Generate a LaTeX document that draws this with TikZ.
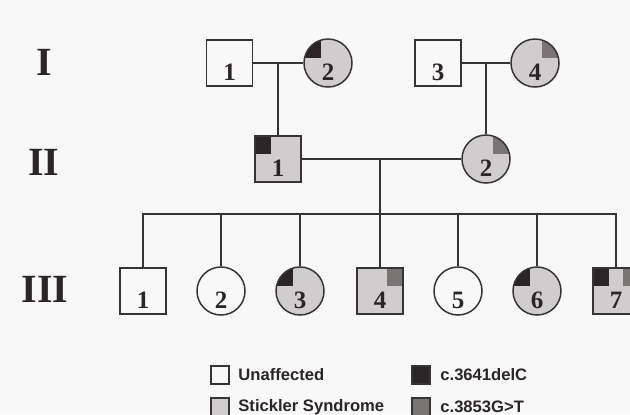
\documentclass[tikz,border=0pt]{standalone}
\usepackage{fontspec}
\setmainfont{Liberation Serif}
\setsansfont{Liberation Sans}

\definecolor{bgcol}{HTML}{F8F8F8}
\definecolor{affcol}{HTML}{CFCDCE}
\definecolor{colA}{HTML}{2B2527}
\definecolor{colB}{HTML}{7A7475}
\definecolor{linecol}{HTML}{363434}

\tikzstyle{line} = [draw=linecol, line width=0.75pt]
\tikzstyle{male} = [
        rectangle,
        minimum size=23pt,
        inner sep=0pt,
        text height=17pt,
        text depth=0pt,
        draw=linecol,
        line width=0.75pt,
        fill=bgcol,
        font=\fontsize{12.5}{14}\selectfont\bfseries,
        text=colA
    ]
\tikzstyle{female} = [
        circle,
        minimum size=24pt,
        inner sep=0pt,
        text height=17pt,
        text depth=0pt,
        draw=linecol,
        line width=0.75pt,
        fill=bgcol,
        font=\fontsize{12.5}{14}\selectfont\bfseries,
        text=colA
    ]
\tikzstyle{affected} = [fill=affcol]
\tikzstyle{carrierA} = [path picture={
        \fill[colA] (path picture bounding box.north west) rectangle ([xshift=-3.5pt,yshift=2.5pt]path picture bounding box.center);}]
\tikzstyle{carrierB} = [path picture={
        \fill[colB] (path picture bounding box.north east) rectangle ([xshift=3.5pt,yshift=2.5pt]path picture bounding box.center);}]
\tikzstyle{carrierAB} = [path picture={
        \fill[colA] (path picture bounding box.north west) rectangle ([xshift=-3.5pt,yshift=2.5pt]path picture bounding box.center);
        \fill[colB] (path picture bounding box.north east) rectangle ([xshift=3.5pt,yshift=2.5pt]path picture bounding box.center);}]
\tikzstyle{gen} = [font=\fontsize{20}{24}\selectfont\bfseries, text=colA]
\tikzstyle{legbox} = [
        rectangle,
        minimum size=9pt,
        inner sep=0pt,
        draw=linecol,
        line width=0.6pt
    ]
\tikzstyle{legtext} = [anchor=west, inner sep=0pt, font=\sffamily\bfseries\fontsize{8.3}{10}\selectfont, text=colA]

\begin{document}
\begin{tikzpicture}[x=0.5pt, y=-0.5pt]

        \path [use as bounding box, fill=bgcol] (0,0) rectangle (630,414);
        \clip (0,0) rectangle (630,414);

        % generations
        \node [gen] (genI) at (44,62) {I};
        \node [gen] (genII) at (44,162) {II};
        \node [gen] (genIII) at (45,289) {III};

        \node [male] (I1) at (229.5,63) {1};
        \node [female, affected, carrierA] (I2) at (328,63) {2};
        \node [male] (I3) at (438,63) {3};
        \node [female, affected, carrierB] (I4) at (535,63) {4};
        \coordinate (mI12) at (278,63);
        \coordinate (mI34) at (486,63);

        \node [male, affected, carrierA] (II1) at (278,159) {1};
        \node [female, affected, carrierB] (II2) at (486,159) {2};
        \coordinate (mII) at (380,160);
        \coordinate (sib) at (380,214);

        \node [male] (III1) at (143,291) {1};
        \node [female] (III2) at (221,291) {2};
        \node [female, affected, carrierA] (III3) at (300,291) {3};
        \node [male, affected, carrierB] (III4) at (380,291) {4};
        \node [female] (III5) at (458,291) {5};
        \node [female, affected, carrierA] (III6) at (537,291) {6};
        \node [male, affected, carrierAB] (III7) at (616,291) {7};

        \draw [line] (I1) -- (I2);
        \draw [line] (I3) -- (I4);
        \draw [line] (mI12) -- (II1);
        \draw [line] (mI34) -- (II2);
        \draw [line] (II1) -- (II2);
        \draw [line] (mII) -- (sib);
        \draw [line] (III1) |- (sib) -| (III7);
        \foreach \k in {2,...,6}
            \draw [line] (III\k) -- (III\k |- sib);

        % legend
        \node [legbox, fill=bgcol] (keyU) at (220,375) {};
        \node [legtext] (keyUt) at (238,375) {Unaffected};
        \node [legbox, fill=affcol] (keyS) at (220,407) {};
        \node [legtext] (keySt) at (238,407) {Stickler Syndrome};
        \node [legbox, fill=colA] (keyA) at (421,375) {};
        \node [legtext] (keyAt) at (440,375) {c.3641delC};
        \node [legbox, fill=colB] (keyB) at (421,407) {};
        \node [legtext] (keyBt) at (440,407) {c.3853G>T};

\end{tikzpicture}
\end{document}
